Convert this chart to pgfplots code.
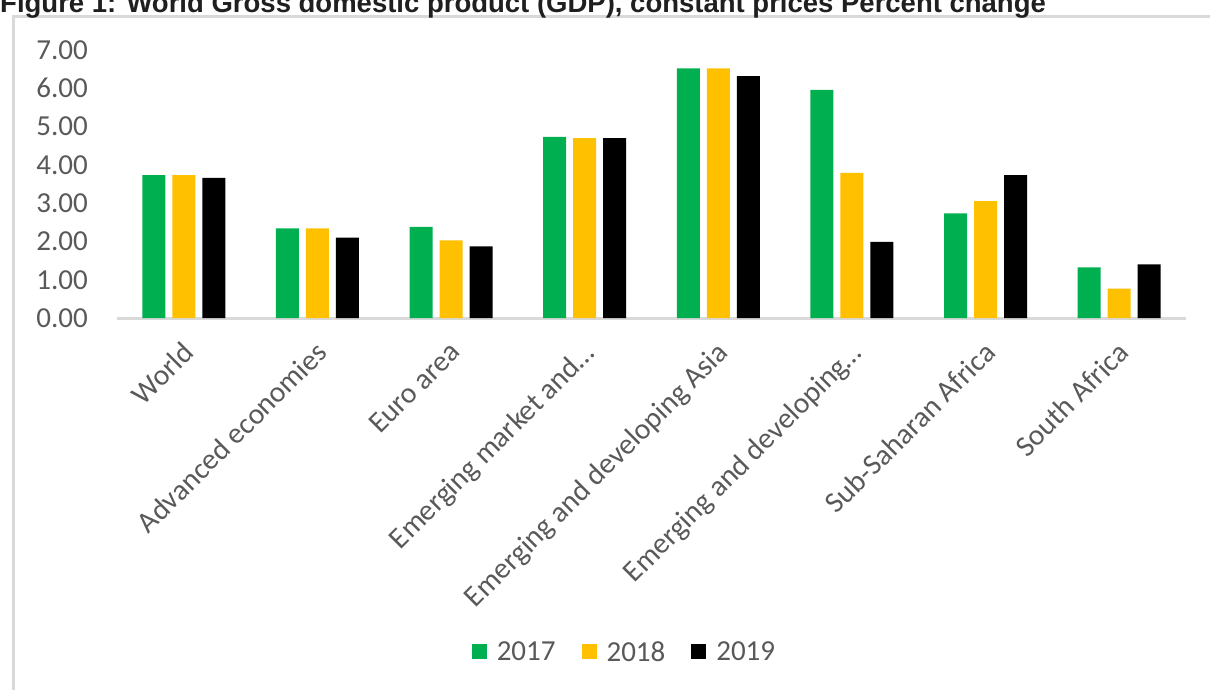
\documentclass[border=0pt]{standalone}
\usepackage{pgfplots}
\pgfplotsset{compat=1.18}
\usepackage{fontspec}
\setmainfont{Carlito}
\newfontfamily\titlefont{Liberation Sans}
\definecolor{cgreen}{HTML}{00B050}
\definecolor{cyellow}{HTML}{FFC000}
\definecolor{ctext}{HTML}{595959}
\definecolor{cframe}{HTML}{D9D9D9}
\begin{document}
\begin{tikzpicture}[x=1pt,y=1pt]
\useasboundingbox (0,0) rectangle (1210,689);
\clip (0,0) rectangle (1210,689);
\draw[cframe, line width=3pt] (13.5,-20) -- (13.5,672.5) -- (1230,672.5);
\node[anchor=base west, inner sep=0, font=\titlefont\bfseries\fontsize{27.5}{30}\selectfont, text=black!88] at (0,676) {Figure 1: World Gross domestic product (GDP), constant prices Percent change};
\begin{axis}[
  at={(117pt,371pt)}, anchor=south west,
  scale only axis, width=1069pt, height=268pt,
  xmin=-0.5, xmax=7.5, ymin=0, ymax=7,
  axis lines*=left,
  y axis line style={draw=none},
  x axis line style={cframe, line width=3pt},
  tick style={draw=none},
  xtick={0,...,7},
  xticklabels={World, Advanced economies, Euro area, Emerging market and…, Emerging and developing Asia, Emerging and developing…, Sub-Saharan Africa, South Africa},
  xticklabel style={font=\fontsize{29.5}{31}\selectfont, text=ctext, xshift=-3pt, yshift=-22pt, rotate=45, anchor=north east, inner sep=0pt},
  ytick={0,...,7},
  yticklabel style={font=\fontsize{29}{31}\selectfont, text=ctext, anchor=east, inner sep=0pt, xshift=-29pt,
    /pgf/number format/.cd, fixed, fixed zerofill, precision=2, assume math mode=true},
  legend style={at={(0.4747,-1.246)}, anchor=center, draw=none, fill=none,
    font=\fontsize{29}{31}\selectfont, text=ctext,
    /tikz/every odd column/.append style={column sep=8pt},
    /tikz/every even column/.append style={column sep=24pt}},
  legend columns=3,
  legend image code/.code={\fill[#1] (0pt,-7.5pt) rectangle (15pt,7.5pt);},
]
\addplot[ybar, bar width=23pt, bar shift=-30pt, fill=cgreen, draw=none] coordinates {
 (0,3.73) (1,2.34) (2,2.38) (3,4.73) (4,6.52) (5,5.96) (6,2.73) (7,1.32)};
\addplot[ybar, bar width=23pt, bar shift=0pt, fill=cyellow, draw=none] coordinates {
 (0,3.73) (1,2.34) (2,2.03) (3,4.70) (4,6.52) (5,3.79) (6,3.05) (7,0.77)};
\addplot[ybar, bar width=23pt, bar shift=30pt, fill=black, draw=none] coordinates {
 (0,3.66) (1,2.10) (2,1.87) (3,4.70) (4,6.32) (5,1.99) (6,3.73) (7,1.40)};
\legend{2017,2018,2019}
\end{axis}
\end{tikzpicture}
\end{document}
